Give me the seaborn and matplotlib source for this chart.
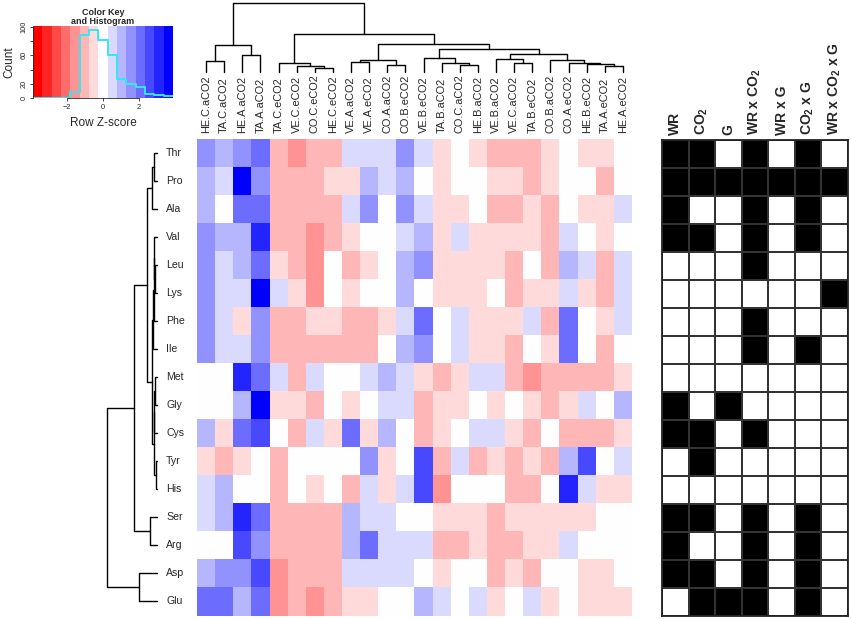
import numpy as np
import pandas as pd
import matplotlib
matplotlib.use("Agg")
import matplotlib.pyplot as plt
from matplotlib.colors import LinearSegmentedColormap, ListedColormap
import seaborn as sns

sns.set_style("ticks")
plt.rcParams["font.family"] = ["Liberation Sans", "DejaVu Sans"]
plt.rcParams["mathtext.fontset"] = "custom"
plt.rcParams["mathtext.rm"] = "Liberation Sans"
plt.rcParams["mathtext.bf"] = "Liberation Sans:bold"

amino_acids = ["Thr", "Pro", "Ala", "Val", "Leu", "Lys", "Phe", "Ile", "Met",
               "Gly", "Cys", "Tyr", "His", "Ser", "Arg", "Asp", "Glu"]
samples = ["HE.C.aCO2", "TA.C.aCO2", "HE.A.aCO2", "TA.A.aCO2", "TA.C.eCO2",
           "VE.C.eCO2", "CO.C.eCO2", "HE.C.eCO2", "VE.A.aCO2", "VE.A.eCO2",
           "CO.A.aCO2", "CO.B.eCO2", "VE.B.eCO2", "TA.B.aCO2", "CO.C.aCO2",
           "HE.B.aCO2", "VE.B.aCO2", "VE.C.aCO2", "TA.B.eCO2", "CO.B.aCO2",
           "CO.A.eCO2", "HE.B.eCO2", "TA.A.eCO2", "HE.A.eCO2"]

# colour key: 15 equal bins of row z-score
key_min, key_max, n_bins = -3.89, 3.89, 15
bin_width = (key_max - key_min) / n_bins

zscore_bins = [
    [3, 2, 3, 4, -2, -3, -2, -2, 1, 1, 1, 3, 1, -1, 0, -1, -2, -2, -2, -1, 0, -1, -1, 0],
    [2, 1, 7, 3, -2, -2, -2, -1, -1, 2, 1, 2, 0, -1, 0, 0, -1, -1, -2, -1, 0, 0, -2, 0],
    [2, 0, 4, 4, -2, -2, -2, -2, 1, 3, 0, 3, 1, -1, -1, 0, -2, -2, -1, -2, 0, -1, -1, 1],
    [3, 2, 2, 6, -2, -2, -3, -2, -1, 0, 0, 1, 2, -1, 1, -1, -1, -1, -1, -2, 1, 0, -1, 0],
    [3, 1, 2, 4, -1, -2, -3, 0, -2, -1, 0, 2, 3, -1, -1, -1, -1, -2, 0, -2, 2, 1, -2, 1],
    [3, 1, 1, 7, 1, -1, -3, 0, -1, 0, 0, 2, 0, -1, -1, -1, 0, -2, -1, -1, 1, -1, -2, 1],
    [3, 1, -1, 3, -2, -2, -1, -1, -2, -2, -1, 1, 4, 0, 1, -1, -1, -1, 1, -2, 4, 0, -1, 1],
    [3, 1, 1, 3, -2, -2, -2, -2, -2, -2, 0, 2, 3, 0, 1, -1, -1, -2, 0, -1, 4, 0, -2, 0],
    [0, 0, 6, 4, 1, -2, 1, 0, 0, 1, 2, 1, -1, -2, -1, 1, 1, -2, -3, -2, -2, -2, -2, -1],
    [0, 0, 2, 7, -1, -1, -2, 0, -1, 0, 1, 1, -2, -1, -1, 0, -1, 0, -1, -2, -1, 1, 0, 2],
    [2, -1, 4, 5, 0, -2, 1, -1, 4, -1, 2, 0, -2, -1, 0, 1, 1, -1, -2, 0, -2, -2, -2, -1],
    [-1, -2, -1, 0, -2, 0, 0, 0, 0, 3, -1, 0, 5, -2, 1, -2, -1, -2, -1, -2, 2, 5, 0, 1],
    [1, 2, 0, 0, -2, 0, -1, 0, -2, 1, -1, 1, 5, -3, 0, 0, 0, -2, -2, 0, 6, 1, -1, -1],
    [1, 2, 6, 4, -2, -2, -2, -2, 2, 1, 1, 0, 0, -1, -1, -1, -2, -1, -1, -1, -1, -1, 0, 0],
    [0, 0, 5, 3, -2, -2, -2, -2, 2, 4, 1, 1, 1, -2, -2, -1, -2, -2, -1, -1, 1, 0, 0, 0],
    [2, 3, 3, 5, -3, -2, -2, -2, 1, 1, 1, 1, 0, -1, 0, 0, -2, -1, -2, 0, 0, -1, -1, 0],
    [4, 4, 2, 4, -3, -2, -3, -2, -1, -1, 0, 0, 2, 1, 0, 1, -1, 0, 1, -1, 0, -1, -1, -1],
]

effects = ["WR", r"CO$_\mathbf{2}$", "G", r"WR x CO$_\mathbf{2}$", "WR x G",
           r"CO$_\mathbf{2}$ x G", r"WR x CO$_\mathbf{2}$ x G"]
significant = [
    [1, 1, 0, 1, 0, 1, 0],
    [1, 1, 1, 1, 1, 1, 1],
    [1, 0, 0, 1, 0, 1, 0],
    [1, 1, 0, 1, 0, 1, 0],
    [0, 0, 0, 1, 0, 0, 0],
    [0, 0, 0, 0, 0, 0, 1],
    [0, 0, 0, 1, 0, 0, 0],
    [0, 0, 0, 1, 0, 1, 0],
    [0, 0, 0, 0, 0, 0, 0],
    [1, 0, 1, 0, 0, 0, 0],
    [1, 1, 0, 1, 0, 0, 0],
    [0, 1, 0, 0, 0, 0, 0],
    [0, 0, 0, 0, 0, 0, 0],
    [1, 1, 0, 1, 0, 1, 0],
    [1, 0, 0, 1, 0, 1, 0],
    [1, 1, 0, 1, 0, 1, 0],
    [0, 1, 1, 1, 0, 1, 0],
]

# dendrogram merges (child a, child b, height); new node ids follow the leaves
col_merges = [
    (0, 1, 10.7), (2, 3, 16.7), (24, 25, 26.7),
    (6, 7, 4.0), (5, 27, 5.7), (4, 28, 8.4),
    (8, 9, 9.7), (10, 11, 6.4), (30, 31, 11.7),
    (14, 15, 6.4), (13, 33, 8.4), (12, 34, 13.4),
    (17, 18, 8.4), (16, 36, 12.4),
    (22, 23, 6.0), (21, 38, 7.4), (20, 39, 9.0), (19, 40, 11.7),
    (37, 41, 17.4), (35, 42, 22.4), (32, 43, 27.7), (29, 44, 37.4),
    (26, 45, 68.4),
]
row_merges = [
    (0, 1, 2.3), (17, 2, 4.3),
    (4, 5, 1.5), (3, 19, 2.5), (20, 6, 3.0), (21, 7, 3.5),
    (8, 9, 2.0), (23, 10, 2.5), (11, 12, 1.0), (24, 25, 3.0),
    (22, 26, 4.6), (18, 27, 10.0),
    (13, 14, 6.7), (28, 29, 22.3),
    (15, 16, 17.7), (30, 31, 49.7),
]

z = pd.DataFrame(np.array(zscore_bins) * bin_width, index=amino_acids, columns=samples)
sig = pd.DataFrame(significant, index=amino_acids, columns=effects)

key_colors = LinearSegmentedColormap.from_list("rwb", ["#FF0000", "#FFFFFF", "#0000FF"])(
    np.linspace(0, 1, n_bins))
key_cmap = ListedColormap(key_colors)
breaks = np.linspace(key_min, key_max, n_bins + 1)

W, H = 851, 619
fig = plt.figure(figsize=(W / 100, H / 100), dpi=100)


def px_axes(x0, y0, x1, y1):
    return fig.add_axes([x0 / W, 1 - y1 / H, (x1 - x0) / W, (y1 - y0) / H])


def draw_dendrogram(ax, merges, n_leaves, top_down):
    pos = {i: i + 0.5 for i in range(n_leaves)}
    hgt = {i: 0.0 for i in range(n_leaves)}
    for k, (a, b, h) in enumerate(merges):
        xs = [pos[a], pos[a], pos[b], pos[b]]
        ys = [hgt[a], h, h, hgt[b]]
        if top_down:
            ax.plot(xs, ys, color="black", lw=1.0, clip_on=False)
        else:
            ax.plot(ys, xs, color="black", lw=1.0, clip_on=False)
        pos[n_leaves + k] = (pos[a] + pos[b]) / 2
        hgt[n_leaves + k] = h


# main heatmap
ax_hm = px_axes(197, 139.3, 632, 615.5)
sns.heatmap(z, ax=ax_hm, cmap=key_cmap, vmin=key_min, vmax=key_max, cbar=False,
            xticklabels=True, yticklabels=True)
ax_hm.tick_params(axis="x", bottom=False, labelbottom=False, top=False, labeltop=True,
                  length=0, pad=4.3, labelsize=7.9)
ax_hm.tick_params(axis="y", left=False, length=0, pad=22.3, labelsize=7.6)
plt.setp(ax_hm.get_xticklabels(), rotation=90, va="bottom")
plt.setp(ax_hm.get_yticklabels(), rotation=0, ha="left")
ax_hm.set_xlabel("")
ax_hm.set_ylabel("")

# column dendrogram
ax_cd = px_axes(197, 3.3, 632, 71.7)
draw_dendrogram(ax_cd, col_merges, len(samples), True)
ax_cd.set_xlim(0, len(samples))
ax_cd.set_ylim(0, 68.4)
ax_cd.axis("off")

# row dendrogram
ax_rd = px_axes(107, 139.3, 156.7, 615.5)
draw_dendrogram(ax_rd, row_merges, len(amino_acids), False)
ax_rd.set_ylim(len(amino_acids), 0)
ax_rd.set_xlim(49.7, 0)
ax_rd.axis("off")

# significance matrix
ax_sig = px_axes(662, 139.8, 848, 615.5)
sns.heatmap(sig, ax=ax_sig, cmap=ListedColormap(["white", "black"]), vmin=0, vmax=1,
            cbar=False, linewidths=1.1, linecolor="#333333", xticklabels=True,
            yticklabels=False)
for s in ax_sig.spines.values():
    s.set_visible(True)
    s.set_linewidth(1.3)
    s.set_color("#222222")
ax_sig.tick_params(axis="x", bottom=False, labelbottom=False, top=False, labeltop=True,
                   length=0, pad=3.5, labelsize=10)
plt.setp(ax_sig.get_xticklabels(), rotation=90, va="bottom", fontweight="bold")
ax_sig.set_xlabel("")
ax_sig.set_ylabel("")

# colour key with histogram
ax_key = px_axes(33, 26, 173, 98)
centers = (breaks[:-1] + breaks[1:]) / 2
counts, _ = np.histogram(z.values.ravel(), bins=breaks)
top = counts.max() / 0.95
ax_key.pcolormesh(breaks, [0, top], centers[np.newaxis, :], cmap=key_cmap,
                  vmin=key_min, vmax=key_max)
ax_key.step(breaks, np.append(counts, counts[-1]), where="post", color="#33E8F0", lw=1.4)
ax_key.set_xlim(key_min, key_max)
ax_key.set_ylim(0, top)
ax_key.set_xticks([-2, 0, 2])
ax_key.set_yticks([0, 20, 40, 60, 80, 100])
ax_key.set_yticklabels(["0", "20", "", "60", "", "100"], rotation=90, va="center")
ax_key.tick_params(labelsize=5.3, length=2.5, width=0.6, pad=1.5)
for side in ["top", "right"]:
    ax_key.spines[side].set_visible(False)
ax_key.spines["bottom"].set_bounds(-2, 2)
ax_key.spines["left"].set_bounds(0, 100)
for side in ["bottom", "left"]:
    ax_key.spines[side].set_linewidth(0.6)
ax_key.set_xlabel("Row Z-score", fontsize=8.5, labelpad=5)
ax_key.set_ylabel("Count", fontsize=8.5, labelpad=4)
ax_key.set_title("Color Key\nand Histogram", fontsize=6.5, fontweight="bold",
                 pad=0.5, linespacing=1.0)

fig.savefig("out.png", dpi=100)
